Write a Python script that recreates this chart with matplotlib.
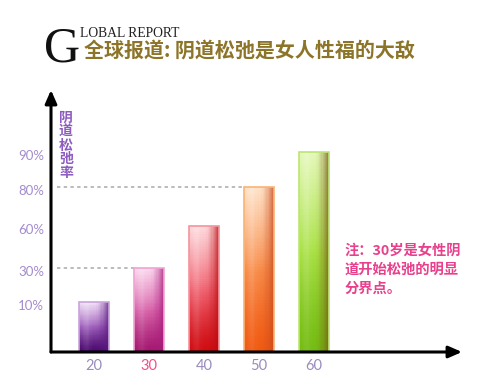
import numpy as np
import matplotlib
matplotlib.use("Agg")
import matplotlib.pyplot as plt
from matplotlib.colors import to_rgb
from matplotlib.transforms import ScaledTranslation

# ---- data ----
ages = ["20", "30", "40", "50", "60"]
rates = [10, 30, 60, 80, 90]
ytick_labels = ["10%", "30%", "60%", "80%", "90%"]
guide_values = [80, 30]
# non-uniform axis of the original infographic (value -> relative height)
scale_vals = [0, 10, 30, 60, 80, 90, 120]
scale_pos = [0, 50, 84, 126, 165, 200, 262]

title_cn = "全球报道: 阴道松弛是女人性福的大敌"
ylabel_cn = "阴道松弛率"
note_cn = "注：30岁是女性阴\n道开始松弛的明显\n分界点。"

light = ["#f2e0f6", "#fbd8ee", "#fddadd", "#fee2c8", "#e4f8b8"]
mid = ["#9c5cba", "#d864aa", "#f06472", "#f88c4a", "#a8e044"]
dark = ["#4a0a6e", "#a41870", "#d00c12", "#f05a12", "#74bc12"]
side = ["#5a1a80", "#a81c7c", "#b80c10", "#c84a1c", "#7a5a18"]
edge = ["#c8a4da", "#f0a4d2", "#f4949c", "#f8b474", "#bce474"]

W, H = 487, 390
fig = plt.figure(figsize=(W / 100, H / 100), dpi=100)
fig.patch.set_facecolor("white")

ax_l, ax_r, ax_b, ax_t = 51, 462, 352, 90
ax = fig.add_axes([ax_l / W, (H - ax_b) / H, (ax_r - ax_l) / W, (ax_b - ax_t) / H])
ax.set_facecolor("none")

fwd = lambda v: np.interp(v, scale_vals, scale_pos)
inv = lambda p: np.interp(p, scale_pos, scale_vals)
ax.set_yscale("function", functions=(fwd, inv))
ax.set_ylim(0, 120)
ax.set_xlim(-0.782, 6.69)

x = np.arange(len(ages))
bw = 0.53


def mix(a, b, t):
    return a + (b - a) * t[..., None]


for i, (xi, v) in enumerate(zip(x, rates)):
    nu, nv = 24, 60
    ue = np.linspace(xi - bw / 2, xi + bw / 2, nu + 1)
    ve = inv(np.linspace(0, fwd(v), nv + 1))
    uc = (np.arange(nu) + 0.5) / nu
    vc = (np.arange(nv) + 0.5) / nv
    U, V = np.meshgrid(uc, vc)
    L, M, D, S = (np.array(to_rgb(c)) for c in (light[i], mid[i], dark[i], side[i]))
    t1 = np.clip((V - 0.5) / 0.5, 0, 1)
    t0 = np.clip(V / 0.5, 0, 1)
    col = np.where((V >= 0.5)[..., None], mix(M, L, t1 ** 0.9), mix(D, M, t0 ** 1.3))
    ws = np.clip((U - 0.55) / 0.45, 0, 1) ** 1.4 * 0.75
    col = mix(col, np.broadcast_to(S, col.shape), ws)
    hl = 0.22 * np.exp(-((U - 0.25) / 0.13) ** 2) * (0.3 + 0.7 * V)
    col = mix(col, np.ones_like(col), hl)
    col = np.clip(col, 0, 1)
    ax.pcolormesh(ue, ve, col, shading="flat", edgecolors="none",
                  antialiased=False, zorder=2)

ax.bar(x, rates, width=bw, fill=False, edgecolor=edge, linewidth=1.2, zorder=3)

# dotted guides
for gv, target in zip(guide_values, [3, 1]):
    ax.hlines(gv, -0.67, x[target] - bw / 2, colors="#a8a8a8",
              linestyles=(0, (2.2, 2.2)), linewidth=1.1, zorder=1)

# axes with arrows
for sp in ax.spines.values():
    sp.set_visible(False)
ax.annotate("", xy=(0, 1), xytext=(0, 0), xycoords="axes fraction",
            arrowprops=dict(arrowstyle="-|>,head_length=0.8,head_width=0.35",
                            lw=2.2, color="black", shrinkA=0, shrinkB=0), zorder=5)
ax.annotate("", xy=(1, 0), xytext=(0, 0), xycoords="axes fraction",
            arrowprops=dict(arrowstyle="-|>,head_length=0.8,head_width=0.35",
                            lw=2.2, color="black", shrinkA=0, shrinkB=0), zorder=5)

ax.set_xticks(x)
ax.set_xticklabels(ages, fontfamily="Lato", fontsize=10.5)
for lab, a in zip(ax.get_xticklabels(), ages):
    lab.set_color("#f0508a" if a == "30" else "#9a8cbc")
ax.set_yticks(rates)
ax.set_yticks([], minor=True)
ax.set_yticklabels(ytick_labels, fontfamily="Lato", fontsize=9.5, color="#a48ccc")
ax.tick_params(axis="both", length=0, which="both")
ax.tick_params(axis="x", pad=5)
ax.tick_params(axis="y", pad=5)
off = ScaledTranslation(0, -3 / 100, fig.dpi_scale_trans)
for lab in ax.get_yticklabels():
    lab.set_transform(lab.get_transform() + off)

# vertical y label
fig.text(66 / W, 1 - 111 / H, "\n".join(ylabel_cn), ha="center", va="top",
         fontfamily="Noto Sans CJK SC", fontsize=10, fontweight="bold",
         color="#8e5cc0", linespacing=0.98)

# note
fig.text(345 / W, 1 - 244 / H, note_cn, ha="left", va="top",
         fontfamily="Noto Sans CJK SC", fontsize=10.3, fontweight="bold",
         color="#e8408c", linespacing=1.45)

# title block
fig.text(44 / W, 1 - 61 / H, "G", ha="left", va="baseline",
         fontfamily="Liberation Serif", fontsize=36, color="#111111")
fig.text(80 / W, 1 - 37 / H, "LOBAL REPORT", ha="left", va="baseline",
         fontfamily="Liberation Serif", fontsize=9.8, color="#222222")
fig.text(84 / W, 1 - 50.5 / H, title_cn, ha="left", va="center",
         fontfamily=["Noto Sans CJK SC", "DejaVu Sans"], fontsize=14.4,
         fontweight="bold", color="#8c7428")

fig.savefig("out.png", dpi=100, facecolor="white")
